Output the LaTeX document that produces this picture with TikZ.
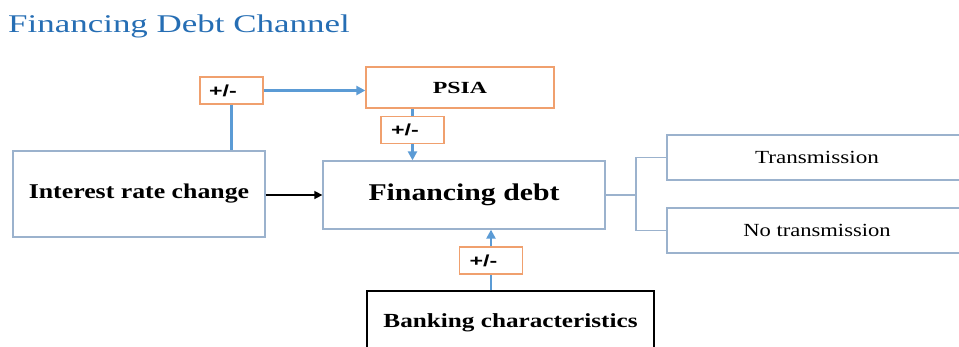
\documentclass[tikz,border=0pt]{standalone}
\usepackage{fontspec}
\setmainfont{Liberation Serif}
\newfontfamily\sansfnt{Liberation Sans}
\usetikzlibrary{arrows.meta}
\definecolor{titleblue}{RGB}{38,110,180}
\definecolor{linkblue}{RGB}{91,155,213}
\definecolor{boxgray}{RGB}{155,178,205}
\definecolor{boxorange}{RGB}{240,160,110}
\newcommand{\sx}[2]{\scalebox{#1}[1]{#2}}
\tikzset{
  bluebox/.style={draw=boxgray, line width=1.3pt, inner sep=0pt, fill=white},
  orbox/.style={draw=boxorange, line width=1.3pt, inner sep=0pt, fill=white, minimum width=63pt, minimum height=27pt},
  blackbox/.style={draw=black, line width=1.2pt, inner sep=0pt, fill=white},
  link/.style={draw=linkblue, line width=2.4pt},
  linkarrow/.style={link, -{Triangle[length=9pt,width=9pt]}},
  bracket/.style={draw=boxgray, line width=1.3pt},
  pm/.style={font=\sansfnt\fontsize{16}{18}\selectfont\bfseries},
}
\begin{document}
\begin{tikzpicture}[x=1pt,y=-1pt]
\useasboundingbox (0,0) rectangle (959,346);
% title
\node[anchor=base west, inner sep=0pt, text=titleblue, font=\fontsize{25.5}{28}\selectfont] (title) at (8,32) {\sx{1.37}{Financing Debt Channel}};
% boxes
\node[bluebox, minimum width=252pt, minimum height=86pt, font=\fontsize{21}{24}\selectfont\bfseries] (irc) at (139,194) {\raisebox{-2pt}{\sx{1.23}{Interest rate change}}};
\node[bluebox, minimum width=282pt, minimum height=68pt, font=\fontsize{24}{28}\selectfont\bfseries] (fd) at (464,195) {\sx{1.24}{Financing debt}};
\node[draw=boxorange, line width=1.3pt, inner sep=0pt, minimum width=188pt, minimum height=41pt, font=\fontsize{17}{19}\selectfont\bfseries] (psia) at (460,87.5) {\sx{1.4}{PSIA}};
\node[bluebox, minimum width=300pt, minimum height=45pt, font=\fontsize{18.5}{21}\selectfont] (tr) at (817,157.5) {\sx{1.25}{Transmission}};
\node[bluebox, minimum width=300pt, minimum height=45pt, font=\fontsize{18.5}{21}\selectfont] (nt) at (817,230.5) {\sx{1.22}{No transmission}};
\node[blackbox, minimum width=287pt, minimum height=64pt, font=\fontsize{20}{24}\selectfont\bfseries] (bank) at (510.5,323) {\sx{1.26}{Banking characteristics}};
% +/- boxes
\node[orbox, pm] (pm1) at (231.5,90.5) {\makebox[45pt][l]{\sx{1.45}{+/-}}};
\node[orbox, pm] (pm2) at (412.5,130) {\makebox[43pt][l]{\sx{1.45}{+/-}}};
\node[orbox, pm] (pm3) at (491,260.5) {\makebox[43pt][l]{\sx{1.45}{+/-}}};
% connectors
\draw[link] (pm1.south) -- (pm1.south |- irc.north);
\draw[linkarrow] (pm1.east) -- (pm1.east -| psia.west);
\draw[link] (pm2.north |- psia.south) -- (pm2.north);
\draw[linkarrow] (pm2.south) -- (pm2.south |- fd.north);
\draw[link] (pm3.south |- bank.north) -- (pm3.south);
\draw[linkarrow] (pm3.north) -- (pm3.north |- fd.south);
\draw[line width=1.6pt, -{Triangle[length=8pt,width=8pt]}] (fd.west -| irc.east) -- (fd.west);
\coordinate (br) at (636,195);
\draw[bracket] (fd.east) -- (br);
\draw[bracket] (tr.west) -| (br) |- (nt.west);
\end{tikzpicture}
\end{document}
